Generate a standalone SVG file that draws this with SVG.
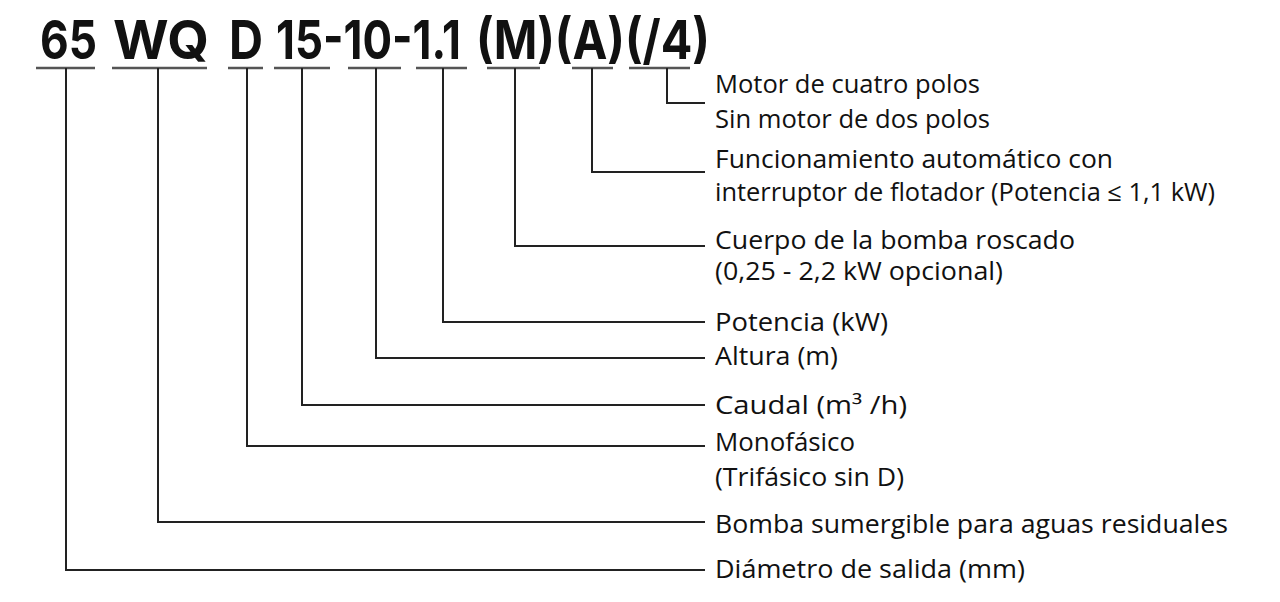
<svg xmlns="http://www.w3.org/2000/svg" width="1280" height="602" viewBox="0 0 1280 602">
<style>
.title{font-family:"Inter","Noto Sans","DejaVu Sans",sans-serif;font-weight:700;font-size:54px;fill:#111;}
.lbl{font-family:"Open Sans","Noto Sans","DejaVu Sans",sans-serif;font-size:25px;fill:#111;}
.ul{stroke:#555;stroke-width:2.5;fill:none;}
.ln{stroke:#222;stroke-width:2;fill:none;}
</style>
<rect width="1280" height="602" fill="#fff"/>
<g id="title">
<text class="title" x="40" y="59" textLength="57" lengthAdjust="spacingAndGlyphs">65</text>
<text class="title" x="113" y="59" textLength="96" lengthAdjust="spacingAndGlyphs">WQ</text>
<text class="title" x="229" y="59" textLength="34" lengthAdjust="spacingAndGlyphs">D</text>
<text class="title" x="276" y="59" textLength="185" lengthAdjust="spacingAndGlyphs">15-10-1.1</text>
<text class="title" x="476" y="59" textLength="234" lengthAdjust="spacingAndGlyphs">(M)(A)(/4)</text>
</g>
<g id="underlines">
<line class="ul" x1="36" y1="68" x2="95" y2="68"/>
<line class="ul" x1="112" y1="68" x2="207" y2="68"/>
<line class="ul" x1="228" y1="68" x2="263" y2="68"/>
<line class="ul" x1="274" y1="68" x2="330" y2="68"/>
<line class="ul" x1="348" y1="68" x2="401" y2="68"/>
<line class="ul" x1="416" y1="68" x2="467" y2="68"/>
<line class="ul" x1="487" y1="68" x2="540" y2="68"/>
<line class="ul" x1="572" y1="68" x2="613" y2="68"/>
<line class="ul" x1="629" y1="68" x2="690" y2="68"/>
</g>
<g id="connectors">
<polyline class="ln" points="66,68 66,570 705,570"/>
<polyline class="ln" points="158,68 158,522 705,522"/>
<polyline class="ln" points="247,68 247,446 705,446"/>
<polyline class="ln" points="302,68 302,405 705,405"/>
<polyline class="ln" points="376,68 376,358 705,358"/>
<polyline class="ln" points="443,68 443,322 705,322"/>
<polyline class="ln" points="515,68 515,246 705,246"/>
<polyline class="ln" points="592,68 592,172 705,172"/>
<polyline class="ln" points="667,68 667,103 705,103"/>
</g>
<g id="node-polos">
<text class="lbl" x="715" y="93" textLength="265" lengthAdjust="spacingAndGlyphs">Motor de cuatro polos</text>
<text class="lbl" x="715" y="128" textLength="275" lengthAdjust="spacingAndGlyphs">Sin motor de dos polos</text>
</g>
<g id="node-auto">
<text class="lbl" x="715" y="168" textLength="398" lengthAdjust="spacingAndGlyphs">Funcionamiento automático con</text>
<text class="lbl" x="715" y="201" textLength="500" lengthAdjust="spacingAndGlyphs">interruptor de flotador (Potencia ≤ 1,1 kW)</text>
</g>
<g id="node-cuerpo">
<text class="lbl" x="715" y="249" textLength="360" lengthAdjust="spacingAndGlyphs">Cuerpo de la bomba roscado</text>
<text class="lbl" x="715" y="280" textLength="288" lengthAdjust="spacingAndGlyphs">(0,25 - 2,2 kW opcional)</text>
</g>
<g id="node-potencia">
<text class="lbl" x="715" y="331" textLength="173" lengthAdjust="spacingAndGlyphs">Potencia (kW)</text>
</g>
<g id="node-altura">
<text class="lbl" x="715" y="365" textLength="123" lengthAdjust="spacingAndGlyphs">Altura (m)</text>
</g>
<g id="node-caudal">
<text class="lbl" x="715" y="414" textLength="192" lengthAdjust="spacingAndGlyphs">Caudal (m³ /h)</text>
</g>
<g id="node-fase">
<text class="lbl" x="715" y="451" textLength="140" lengthAdjust="spacingAndGlyphs">Monofásico</text>
<text class="lbl" x="715" y="486" textLength="189" lengthAdjust="spacingAndGlyphs">(Trifásico sin D)</text>
</g>
<g id="node-bomba">
<text class="lbl" x="715" y="533" textLength="513" lengthAdjust="spacingAndGlyphs">Bomba sumergible para aguas residuales</text>
</g>
<g id="node-diametro">
<text class="lbl" x="715" y="578" textLength="310" lengthAdjust="spacingAndGlyphs">Diámetro de salida (mm)</text>
</g>
</svg>
